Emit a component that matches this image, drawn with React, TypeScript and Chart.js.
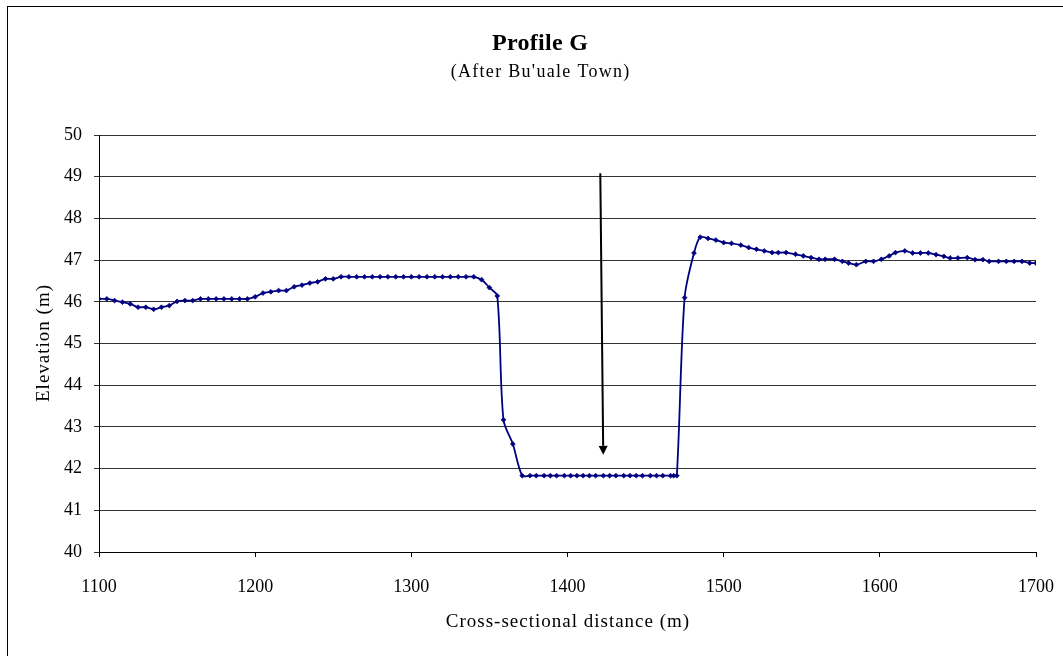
import { useEffect, useRef } from "react";
import { Chart, registerables } from "chart.js";

Chart.register(...registerables);

// ---- data ----
const distance = [
  1100, 1105, 1110, 1115, 1120, 1125, 1130, 1135, 1140, 1145,
  1150, 1155, 1160, 1165, 1170, 1175, 1180, 1185, 1190, 1195,
  1200, 1205, 1210, 1215, 1220, 1225, 1230, 1235, 1240, 1245,
  1250, 1255, 1260, 1265, 1270, 1275, 1280, 1285, 1290, 1295,
  1300, 1305, 1310, 1315, 1320, 1325, 1330, 1335, 1340, 1345,
  1350, 1355, 1359, 1365,
  1371, 1376, 1380, 1385, 1389, 1393, 1398, 1402, 1406, 1410,
  1414, 1418, 1423, 1427, 1431, 1436, 1440, 1444, 1448, 1453,
  1457, 1461, 1466, 1468, 1470,
  1475, 1481, 1485, 1490, 1495, 1500, 1505, 1511, 1516, 1521,
  1526, 1531, 1535, 1540, 1546, 1551, 1556, 1561, 1565, 1571,
  1576, 1580, 1585, 1591, 1596, 1601, 1606, 1610, 1616, 1621,
  1626, 1631, 1636, 1641, 1645, 1650, 1656, 1661, 1666, 1670,
  1676, 1681, 1686, 1691, 1696, 1700,
];

const elevation = [
  46.07, 46.07, 46.03, 45.99, 45.95, 45.87, 45.87, 45.82, 45.87, 45.91,
  46.01, 46.03, 46.03, 46.07, 46.07, 46.07, 46.07, 46.07, 46.07, 46.07,
  46.12, 46.21, 46.24, 46.27, 46.27, 46.36, 46.4, 46.45, 46.48, 46.55,
  46.55, 46.6, 46.6, 46.6, 46.6, 46.6, 46.6, 46.6, 46.6, 46.6,
  46.6, 46.6, 46.6, 46.6, 46.6, 46.6, 46.6, 46.6, 46.6, 46.53,
  46.34, 46.14, 43.17, 42.59,
  41.83, 41.83, 41.83, 41.83, 41.83, 41.83, 41.83, 41.83, 41.83, 41.83,
  41.83, 41.83, 41.83, 41.83, 41.83, 41.83, 41.83, 41.83, 41.83, 41.83,
  41.83, 41.83, 41.83, 41.83, 41.83,
  46.1, 47.17, 47.55, 47.52, 47.48, 47.42, 47.4, 47.36, 47.3, 47.26,
  47.22, 47.18, 47.18, 47.18, 47.14, 47.1, 47.06, 47.02, 47.02, 47.02,
  46.97, 46.93, 46.89, 46.97, 46.97, 47.02, 47.1, 47.18, 47.22, 47.17,
  47.17, 47.17, 47.13, 47.09, 47.05, 47.05, 47.06, 47.01, 47.01, 46.97,
  46.97, 46.97, 46.97, 46.97, 46.93, 46.93,
];

const xRange = [1100, 1700];
const xStep = 100;
const yRange = [40, 50];
const yStep = 1;

const chartTitle = "Profile G";
const chartSubtitle = "(After Bu'uale Town)";
const xAxisTitle = "Cross-sectional distance (m)";
const yAxisTitle = "Elevation (m)";

// arrow annotation, in data units: [distance, elevation]
const arrowStart = [1421, 49.08];
const arrowEnd = [1422.9, 42.33];

const FONT = "'Liberation Serif', 'Times New Roman', serif";

function drawSpacedText(
  ctx: CanvasRenderingContext2D,
  text: string,
  x: number,
  y: number,
  font: string,
  spacing: number,
  rotate = 0
) {
  ctx.save();
  ctx.font = font;
  ctx.fillStyle = "#000";
  ctx.textBaseline = "alphabetic";
  ctx.textAlign = "center";
  try {
    (ctx as any).letterSpacing = spacing + "px";
  } catch (e) {
    /* ignore */
  }
  ctx.translate(x, y);
  if (rotate) ctx.rotate(rotate);
  ctx.fillText(text, spacing / 2, 0);
  ctx.restore();
}

const textPlugin = {
  id: "chartTexts",
  afterDraw(chart: any) {
    const ctx = chart.ctx as CanvasRenderingContext2D;
    const area = chart.chartArea;
    drawSpacedText(ctx, chartTitle, 540, 50, `bold 24px ${FONT}`, 0.3);
    drawSpacedText(ctx, chartSubtitle, 540, 77, `18px ${FONT}`, 1.3);
    drawSpacedText(
      ctx,
      xAxisTitle,
      (area.left + area.right) / 2,
      627,
      `19px ${FONT}`,
      1
    );
    drawSpacedText(
      ctx,
      yAxisTitle,
      49,
      (area.top + area.bottom) / 2,
      `19px ${FONT}`,
      1,
      -Math.PI / 2
    );
  },
};

const arrowPlugin = {
  id: "arrowAnnotation",
  afterDatasetsDraw(chart: any) {
    const xs = chart.scales.x;
    const ys = chart.scales.y;
    const x1 = xs.getPixelForValue(arrowStart[0]);
    const y1 = ys.getPixelForValue(arrowStart[1]);
    const x2 = xs.getPixelForValue(arrowEnd[0]);
    const y2 = ys.getPixelForValue(arrowEnd[1]);
    const ang = Math.atan2(y2 - y1, x2 - x1);
    const headLen = 9;
    const headHalf = 4.5;
    const ctx = chart.ctx;
    ctx.save();
    ctx.strokeStyle = "#000";
    ctx.fillStyle = "#000";
    ctx.lineWidth = 2;
    const bx = x2 - headLen * Math.cos(ang);
    const by = y2 - headLen * Math.sin(ang);
    ctx.beginPath();
    ctx.moveTo(x1, y1);
    ctx.lineTo(bx, by);
    ctx.stroke();
    ctx.beginPath();
    ctx.moveTo(x2, y2);
    ctx.lineTo(bx + headHalf * Math.sin(ang), by - headHalf * Math.cos(ang));
    ctx.lineTo(bx - headHalf * Math.sin(ang), by + headHalf * Math.cos(ang));
    ctx.closePath();
    ctx.fill();
    ctx.restore();
  },
};

export default function App() {
  const ref = useRef<HTMLCanvasElement | null>(null);

  useEffect(() => {
    if (!ref.current) return;
    const points = distance.map((d, i) => ({ x: d, y: elevation[i] }));
    const chart = new Chart(ref.current, {
      type: "line",
      data: {
        datasets: [
          {
            data: points,
            borderColor: "#000080",
            backgroundColor: "#000080",
            borderWidth: 1.8,
            pointStyle: "rectRot",
            pointRadius: 2.4,
            pointBorderWidth: 0.8,
            pointBorderColor: "#000080",
            pointBackgroundColor: "#000080",
            tension: 0.3,
            fill: false,
          },
        ],
      },
      options: {
        animation: false,
        responsive: false,
        devicePixelRatio: 1,
        layout: { padding: { left: 28, right: 27, top: 135, bottom: 24 } },
        plugins: {
          legend: { display: false },
          tooltip: { enabled: false },
          title: { display: false },
        },
        scales: {
          x: {
            type: "linear",
            min: xRange[0],
            max: xRange[1],
            afterFit(scale: any) {
              scale.height = 80;
              scale.paddingLeft = 0;
              scale.paddingRight = 0;
            },
            ticks: {
              stepSize: xStep,
              color: "#000",
              font: { family: FONT, size: 18 },
              padding: 19,
              maxRotation: 0,
              callback: (v: any) => String(v),
            },
            grid: {
              display: true,
              drawOnChartArea: false,
              drawTicks: true,
              tickLength: 5,
              color: "#000",
            },
            border: { display: true, color: "#000", width: 1 },
          },
          y: {
            type: "linear",
            min: yRange[0],
            max: yRange[1],
            afterFit(scale: any) {
              scale.width = 71;
              scale.paddingTop = 0;
              scale.paddingBottom = 0;
            },
            ticks: {
              stepSize: yStep,
              color: "#000",
              font: { family: FONT, size: 18 },
              padding: 12,
              callback: (v: any) => String(v),
            },
            grid: {
              display: true,
              drawTicks: true,
              tickLength: 5,
              color: "#333",
              lineWidth: 1,
            },
            border: { display: true, color: "#000", width: 1 },
          },
        },
      },
      plugins: [arrowPlugin, textPlugin],
    });
    return () => chart.destroy();
  }, []);

  return (
    <div
      style={{
        position: "fixed",
        left: 0,
        top: 0,
        width: 1063,
        height: 656,
        overflow: "hidden",
        background: "#fff",
      }}
    >
      <div
        style={{
          position: "absolute",
          left: 7,
          top: 6,
          width: 1200,
          height: 800,
          border: "1px solid #000",
        }}
      />
      <canvas
        ref={ref}
        width={1063}
        height={656}
        style={{ position: "absolute", left: 0, top: 0, width: 1063, height: 656 }}
      />
    </div>
  );
}
